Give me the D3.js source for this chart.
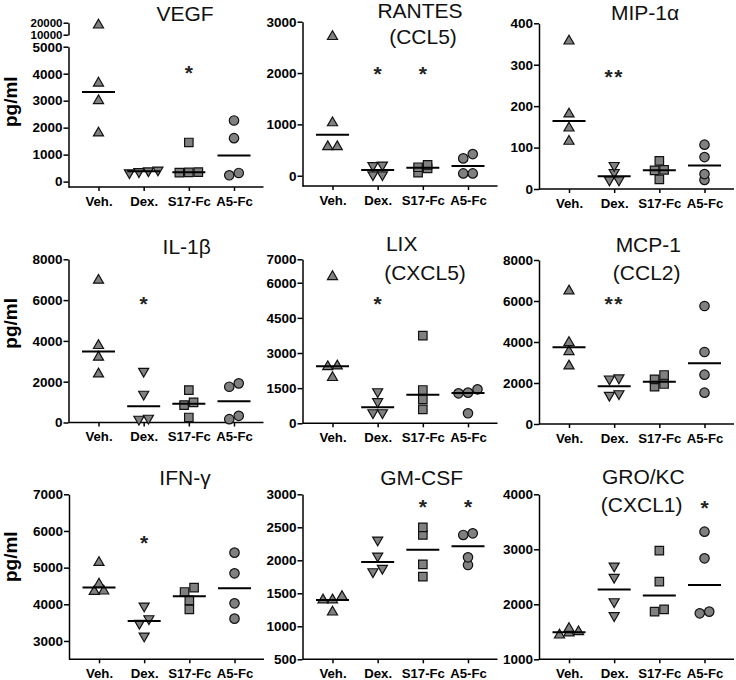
<!DOCTYPE html>
<html><head><meta charset="utf-8">
<script src="https://cdn.jsdelivr.net/npm/d3@7"></script>
<style>body{margin:0;background:#fff} svg{display:block}</style>
</head><body><svg id="chart" width="736" height="680"></svg>
<script>
// ---------- DATA ----------
const groups = ["Veh.", "Dex.", "S17-Fc", "A5-Fc"];
const yLabel = "pg/ml";

const vegf   = [[18000, 3650, 3000, 1800], [330, 370, 400, 430], [330, 340, 350, 1450], [2265, 1610, 234, 320]];
const rantes = [[2710, 1030, 565, 565], [200, 210, 20, 20], [210, 165, 145, 60], [422, 338, 45, 45]];
const mip1a  = [[357, 181, 147, 115], [57, 40, 22, 22], [68, 46, 45, 23], [107, 77, 36, 22]];
const il1b   = [[6970, 3770, 3200, 2380], [2510, 1390, 164, 213], [1590, 984, 852, 246], [1918, 1754, 164, 328]];
const lix    = [[6260, 2447, 2418, 1950], [1350, 925, 455, 455], [3740, 1422, 1024, 597], [1309, 1280, 1451, 427]];
const mcp1   = [[6490, 3970, 3530, 2830], [2200, 2250, 1400, 1480], [2390, 2179, 1951, 1821], [5756, 3512, 2406, 1528]];
const ifng   = [[5140, 4550, 4360, 4350], [3955, 3609, 3482, 3136], [4455, 4336, 4109, 3864], [5409, 4845, 4027, 3609]];
const gmcsf  = [[1450, 1400, 1400, 1215], [2308, 2066, 1828, 1879], [2384, 2500, 1939, 1753], [2409, 2384, 1929, 2045]];
const grokc  = [[1440, 1480, 1500, 1560], [2697, 2491, 2048, 1794], [2976, 2412, 1867, 1909], [3321, 2836, 1836, 1867]];

const titles = [["VEGF"], ["RANTES", "(CCL5)"], ["MIP-1\u03B1"], ["IL-1\u03B2"], ["LIX", "(CXCL5)"], ["MCP-1", "(CCL2)"], ["IFN-\u03B3"], ["GM-CSF"], ["GRO/KC", "(CXCL1)"]];
const values = [vegf, rantes, mip1a, il1b, lix, mcp1, ifng, gmcsf, grokc];
const domains = [[-200, 5000], [-200, 3000], [0, 400], [0, 8000], [0, 7000], [0, 8000], [2500, 7000], [500, 3000], [1000, 4000]];
const tickVals = [
  [0, 1000, 2000, 3000, 4000, 5000], [0, 1000, 2000, 3000], [0, 100, 200, 300, 400],
  [0, 2000, 4000, 6000, 8000], [0, 1500, 3000, 4500, 6000, 7000], [0, 2000, 4000, 6000, 8000],
  [3000, 4000, 5000, 6000, 7000], [500, 1000, 1500, 2000, 2500, 3000], [1000, 2000, 3000, 4000]
];
const breakDomain = [10000, 20000];       // upper segment of VEGF axis
const breakTicks = [10000, 20000];
const stars = [["", "", "*", ""], ["", "*", "*", ""], ["", "**", "", ""], ["", "*", "", ""], ["", "*", "", ""], ["", "**", "", ""], ["", "*", "", ""], ["", "", "*", "*"], ["", "", "", "*"]];
const starLevel = [4200, 2070, 283, 6050, 5300, 6100, 5800, 2890, 3836];

// ---------- LAYOUT ----------
const FONT = "'Liberation Sans', Arial, Helvetica, sans-serif";
const AXW = 195;
const layout = [
  {x0: 68.5, yB: 187, yT: 46.7, brk: [34.7, 22.7]},
  {x0: 302.5, yB: 186, yT: 21.7},
  {x0: 539, yB: 189, yT: 23.3},
  {x0: 68.5, yB: 422.5, yT: 259.3},
  {x0: 302.5, yB: 423.3, yT: 259.3},
  {x0: 539, yB: 424, yT: 260},
  {x0: 69, yB: 659.3, yT: 494.3},
  {x0: 302.5, yB: 659.3, yT: 494.3},
  {x0: 539, yB: 659.3, yT: 494.3}
];
const titlePos = [
  [[185, 21]], [[420, 18], [423, 44]], [[645, 20]],
  [[186.7, 254]], [[401.7, 251], [425, 280]], [[648.3, 252], [646.7, 280]],
  [[185, 485]], [[421.7, 485]], [[643.3, 483.5], [641.7, 512]]
];
const yLabelPos = [[17, 101.7], [17, 323.3], [17, 556.7]];
const symTypes = [d3.symbolTriangle, d3.symbolTriangle, d3.symbolSquare, d3.symbolCircle];
const symSizes = [44, 44, 72, 70];
const H = 5, D = 9.5;

const svg = d3.select("#chart");

yLabelPos.forEach(([lx, ly]) => {
  svg.append("text").attr("transform", `translate(${lx},${ly}) rotate(-90)`)
    .attr("text-anchor", "middle").attr("font-family", FONT).attr("font-weight", "bold")
    .attr("font-size", 19).attr("fill", "#000").text(yLabel);
});

function styleAxis(sel, fs) {
  sel.attr("font-family", FONT).attr("font-size", fs).attr("font-weight", "bold");
  sel.selectAll("path,line").attr("stroke", "#000").attr("stroke-width", 1.5);
  sel.selectAll("text").attr("fill", "#000");
}

values.forEach((vals, i) => {
  const L = layout[i];
  const g = svg.append("g");
  const x = d3.scalePoint().domain(groups).range([L.x0 + 30, L.x0 + 165.5]);
  const y = d3.scaleLinear().domain(domains[i]).range([L.yB, L.yT]);
  const yU = L.brk ? d3.scaleLinear().domain(breakDomain).range(L.brk) : null;
  const Y = v => (yU && v > domains[i][1]) ? yU(v) : y(v);

  // y axis
  const ya = g.append("g").attr("transform", `translate(${L.x0},0)`)
    .call(d3.axisLeft(y).tickValues(tickVals[i]).tickSize(5).tickSizeOuter(0).tickPadding(1).tickFormat(d3.format("d")));
  styleAxis(ya, 13.5);
  if (yU) {
    const yb = g.append("g").attr("transform", `translate(${L.x0},0)`)
      .call(d3.axisLeft(yU).tickValues(breakTicks).tickSize(5).tickSizeOuter(0).tickPadding(1).tickFormat(d3.format("d")));
    styleAxis(yb, 11.5);
  }
  // x axis
  const xa = g.append("g").attr("transform", `translate(0,${L.yB})`)
    .call(d3.axisBottom(x).tickSize(4).tickPadding(5.5));
  xa.select(".domain").remove();
  styleAxis(xa, 13.2);
  g.append("line").attr("x1", L.x0).attr("x2", L.x0 + AXW).attr("y1", L.yB).attr("y2", L.yB)
    .attr("stroke", "#000").attr("stroke-width", 1.5);

  // points
  groups.forEach((gr, gi) => {
    const pts = vals[gi].map(v => ({v, py: Y(v)})).sort((a, b) => b.py - a.py);
    const clusters = [];
    let cur = null;
    pts.forEach(pt => {
      if (cur && cur[0].py - pt.py < H) cur.push(pt);
      else { cur = [pt]; clusters.push(cur); }
    });
    clusters.forEach(c => c.forEach((pt, k) => { pt.px = x(gr) + (k - (c.length - 1) / 2) * D; }));
    g.selectAll(null).data(pts).join("path")
      .attr("transform", d => `translate(${d.px},${d.py})` + (gi === 1 ? " rotate(180)" : ""))
      .attr("d", d3.symbol().type(symTypes[gi]).size(symSizes[gi]))
      .attr("fill", "#808080").attr("stroke", "#111").attr("stroke-width", 1.2);
    const med = d3.median(vals[gi]);
    g.append("line").attr("x1", x(gr) - 16.5).attr("x2", x(gr) + 16.5)
      .attr("y1", Y(med)).attr("y2", Y(med)).attr("stroke", "#000").attr("stroke-width", 2);
    if (stars[i][gi]) {
      g.append("text").attr("x", x(gr)).attr("y", y(starLevel[i]) + 12)
        .attr("text-anchor", "middle").attr("font-family", FONT).attr("font-weight", "bold")
        .attr("font-size", 21).attr("letter-spacing", stars[i][gi].length > 1 ? 1.5 : 0)
        .attr("fill", "#222").text(stars[i][gi]);
    }
  });

  // title
  titles[i].forEach((t, k) => {
    g.append("text").attr("x", titlePos[i][k][0]).attr("y", titlePos[i][k][1])
      .attr("text-anchor", "middle").attr("font-family", FONT).attr("font-size", 21)
      .attr("fill", "#111").text(t);
  });
});
</script>
</body></html>
